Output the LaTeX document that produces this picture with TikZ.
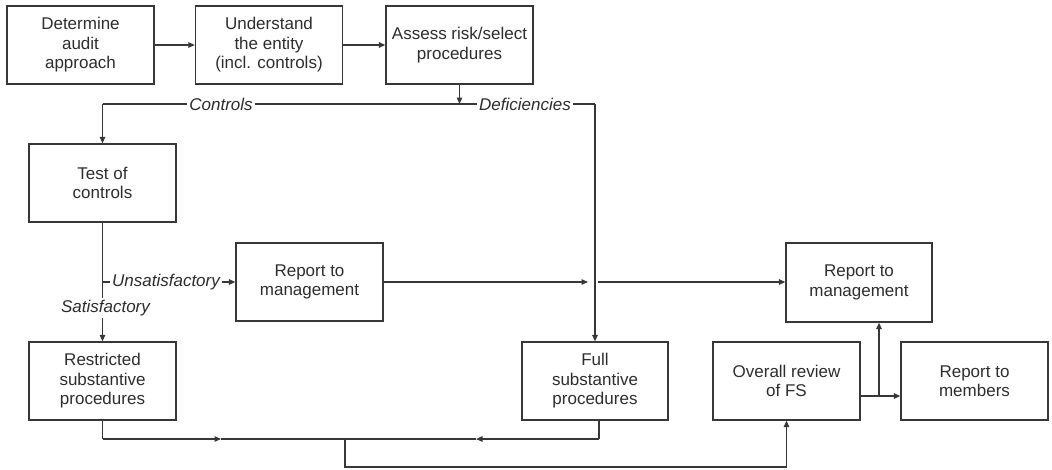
\documentclass[tikz,border=0pt]{standalone}
\usepackage{fontspec}
\setmainfont{Liberation Sans}
\usetikzlibrary{arrows.meta}
\definecolor{ink}{RGB}{45,45,45}
\definecolor{lin}{RGB}{55,55,55}
\begin{document}
\begin{tikzpicture}[x=1pt,y=-1pt,
  box/.style={draw=lin, line width=1.3pt, minimum width=147pt, minimum height=78pt,
    align=center, text=ink, inner sep=2pt, font=\fontsize{17}{19.5}\selectfont},
  conn/.style={draw=lin, line width=1.3pt},
  arr/.style={conn, -{Triangle[length=6.5pt,width=5.5pt]}},
  lbl/.style={fill=white, inner sep=2pt, text=ink, font=\fontsize{17}{19.5}\selectfont\itshape}]
\useasboundingbox (0,0) rectangle (1052,469);

% boxes
\node[box] (det) at (80.5,45) {Determine\\audit\\approach};
\node[box] (und) at (269,45) {Understand\\the entity\\(incl. controls)};
\node[box] (ass) at (459.5,45) {Assess risk/select\\procedures};
\node[box] (test) at (102.5,183) {Test of\\controls};
\node[box] (mgmtA) at (309.5,282) {Report to\\management};
\node[box] (restr) at (102.5,381) {Restricted\\substantive\\procedures};
\node[box, minimum width=146pt] (full) at (595,381) {Full\\substantive\\procedures};
\node[box] (overall) at (786.5,381) {Overall review\\of FS};
\node[box] (members) at (974.5,381) {Report to\\members};
\node[box, minimum width=146pt, minimum height=79pt] (mgmtB) at (859,282.5) {Report to\\management};

% top row
\draw[arr] (det) -- (und);
\draw[arr] (und) -- (ass);

% controls / deficiencies split
\coordinate (cL) at (102.5,104);
\coordinate (cR) at (595,104);
\draw[arr] (ass.south) -- (ass.south |- cL);
\draw[conn] (cL) -- (cR);
\draw[arr] (cL) -- (test.north);
\draw[arr] (cR) -- (full.north);
\node[lbl] (lc) at (221,104) {Controls};
\node[lbl] (ld) at (525,104) {Deficiencies};

% test of controls outcomes
\coordinate (u) at (102.5,282);
\draw[arr] (test.south) -- (restr.north);
\draw[arr] (u) -- (mgmtA.west);
\node[lbl] (lu) at (166,282) {Unsatisfactory};
\node[lbl] (ls) at (105.5,308) {Satisfactory};

% management report to management
\coordinate (xL) at (588,282);
\coordinate (xR) at (598,282);
\draw[arr] (mgmtA.east) -- (xL);
\draw[arr] (xR) -- (xR -| mgmtB.west);

% bottom collection
\coordinate (b1) at (102.5,439);
\coordinate (fs) at ([xshift=4pt]full.south);
\coordinate (b2) at (599,439);
\coordinate (m1) at (221,439);
\coordinate (m2) at (476,439);
\coordinate (d1) at (345,439);
\coordinate (d2) at (345,467);
\draw[conn] (restr.south) -- (b1);
\draw[arr] (b1) -- (m1);
\draw[conn] (m1) -- (m2);
\draw[conn] (fs) -- (b2);
\draw[arr] (b2) -- (m2);
\draw[arr] (d1) -- (d2) -- (d2 -| overall.south) -- (overall.south);

% overall review outputs
\coordinate (ob) at ([yshift=-15pt]overall.east);
\coordinate (br) at (879,396);
\draw[arr] (ob) -- (ob -| members.west);
\draw[arr] (br) -- (br |- mgmtB.south);
\end{tikzpicture}
\end{document}
